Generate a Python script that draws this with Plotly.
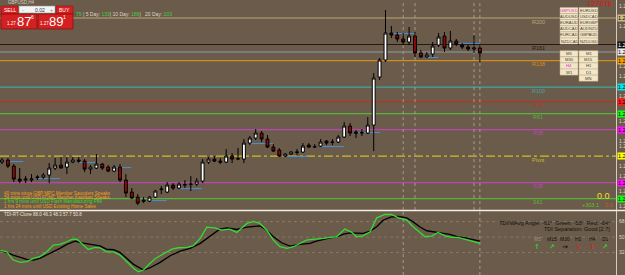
import plotly.graph_objects as go

# ---------------- data ----------------
opens = [1.2588,1.2592,1.2580,1.2554,1.2552,1.2552,1.2557,1.2558,1.2562,1.2576,
         1.2582,1.2578,1.2588,1.2592,1.2590,1.2574,1.2576,1.2584,1.2578,1.2570,
         1.2578,1.2552,1.2528,1.2518,1.2512,1.2510,1.2518,1.2533,1.2528,1.2542,
         1.2536,1.2542,1.2543,1.2544,1.2550,1.2588,1.2594,1.2590,1.2588,1.2600,
         1.2594,1.2594,1.2626,1.2636,1.2646,1.2634,1.2618,1.2612,1.2600,1.2604,
         1.2607,1.2608,1.2622,1.2618,1.2620,1.2630,1.2627,1.2628,1.2638,1.2660,
         1.2648,1.2646,1.2646,1.2662,1.2758,1.2792,1.2846,1.2842,1.2834,1.2828,
         1.2840,1.2806,1.2798,1.2804,1.2822,1.2840,1.2816,1.2830,1.2822,1.2818,
         1.2814,1.2816]
highs = [1.2596,1.2596,1.2584,1.2576,1.2560,1.2564,1.2562,1.2566,1.2586,1.2596,
         1.2598,1.2598,1.2598,1.2598,1.2594,1.2582,1.2604,1.2586,1.2582,1.2582,
         1.2584,1.2564,1.2536,1.2524,1.2518,1.2520,1.2532,1.2540,1.2548,1.2546,
         1.2548,1.2552,1.2560,1.2556,1.2594,1.2598,1.2600,1.2596,1.2614,1.2606,
         1.2616,1.2634,1.2640,1.2654,1.2650,1.2642,1.2624,1.2616,1.2606,1.2610,
         1.2614,1.2626,1.2626,1.2624,1.2634,1.2632,1.2634,1.2642,1.2668,1.2666,
         1.2652,1.2654,1.2678,1.2766,1.2796,1.2892,1.2860,1.2848,1.2846,1.2858,
         1.2848,1.2812,1.2808,1.2828,1.2846,1.2848,1.2850,1.2834,1.2826,1.2822,
         1.2842,1.2822]
lows = [1.2584,1.2576,1.2548,1.2546,1.2546,1.2548,1.2552,1.2554,1.2546,1.2572,
        1.2576,1.2564,1.2586,1.2586,1.2568,1.2564,1.2574,1.2572,1.2568,1.2568,
        1.2548,1.2518,1.2514,1.2502,1.2506,1.2508,1.2516,1.2524,1.2526,1.2532,
        1.2534,1.2536,1.2530,1.2540,1.2546,1.2584,1.2588,1.2584,1.2586,1.2586,
        1.2592,1.2586,1.2622,1.2632,1.2628,1.2616,1.2608,1.2598,1.2598,1.2602,
        1.2602,1.2606,1.2616,1.2616,1.2618,1.2622,1.2622,1.2626,1.2636,1.2640,
        1.2636,1.2640,1.2644,1.2610,1.2752,1.2788,1.2836,1.2828,1.2822,1.2822,
        1.2798,1.2796,1.2796,1.2798,1.2818,1.2808,1.2812,1.2820,1.2814,1.2810,
        1.2806,1.2788]
closes = [1.2592,1.2580,1.2554,1.2550,1.2554,1.2554,1.2558,1.2562,1.2576,1.2582,
          1.2576,1.2588,1.2592,1.2590,1.2574,1.2578,1.2584,1.2576,1.2570,1.2578,
          1.2552,1.2526,1.2516,1.2506,1.2510,1.2518,1.2530,1.2534,1.2542,1.2536,
          1.2544,1.2543,1.2544,1.2550,1.2588,1.2594,1.2590,1.2588,1.2600,1.2594,
          1.2595,1.2626,1.2636,1.2646,1.2634,1.2618,1.2610,1.2600,1.2604,1.2608,
          1.2608,1.2620,1.2618,1.2619,1.2628,1.2626,1.2628,1.2638,1.2660,1.2646,
          1.2646,1.2647,1.2662,1.2756,1.2792,1.2846,1.2842,1.2834,1.2828,1.2840,
          1.2806,1.2798,1.2802,1.2820,1.2838,1.2816,1.2830,1.2824,1.2818,1.2814,
          1.2816,1.2806]
bar_index = list(range(len(opens)))

level_names = ["R200", "R161", "R138", "R100", "R78", "R61", "R38", "Pivot", "S38", "S61"]
level_values = [1.2876, 1.2823, 1.2791, 1.2738, 1.2709, 1.2685, 1.2653, 1.2600, 1.2547, 1.2515]
bid_line = 1.2808
price_ticks = [1.2900, 1.2860, 1.2780, 1.2760, 1.2720, 1.2670, 1.2630, 1.2620, 1.2580, 1.2560, 1.2530, 1.2500]

# short support/resistance segments: (start bar, end bar, price)
seg_start = [0.7, 5.9, 12.9, 18.8, 25.1, 30.2, 42.0, 48.3, 54.2, 60.2, 66.1, 71.7, 77.1]
seg_end = [3.6, 9.8, 15.8, 21.9, 27.9, 33.9, 45.9, 51.9, 58.0, 64.1, 70.0, 73.9, 81.0]
seg_price = [1.2589, 1.2555, 1.2587, 1.2577, 1.2511, 1.2535, 1.2625, 1.2599, 1.2619, 1.2647,
             1.2845, 1.2797, 1.2825]

session_main = [68, 70, 80, 81]
session_sub = [68, 81]

tdi_green_x = [-0.3,0.8,1.9,3.1,4.2,5.3,6.4,7.6,8.7,9.8,11.0,11.8,12.7,13.5,14.6,15.8,16.6,
               17.7,18.9,20.0,21.1,22.3,23.1,24.0,24.8,25.9,26.8,27.9,28.8,29.9,31.3,32.4,
               33.6,34.7,36.1,37.2,38.6,39.8,40.6,41.5,42.6,43.7,44.9,46.0,47.1,48.3,49.4,
               50.5,51.6,52.2,53.3,54.5,55.6,56.7,58.1,59.3,60.1,61.2,62.4,63.5,64.9,66.0,
               67.2,68.6,69.7,70.8,71.7,72.8,73.9,75.1,76.2,77.3,78.5,79.9,81.0]
tdi_green = [34.9,32.9,23.3,20.6,21.4,25.3,27.2,32.9,40.7,41.5,44.6,47.3,47.7,42.7,35.7,38.0,
             37.6,32.9,32.9,29.1,21.4,13.7,9.8,11.7,17.5,24.5,28.3,32.9,36.1,37.6,38.0,39.9,
             48.5,61.6,60.8,58.1,59.3,55.5,60.1,65.9,68.2,65.9,58.1,46.5,38.8,36.9,38.8,
             42.7,46.5,47.0,47.3,48.5,49.6,50.4,59.3,55.5,50.4,51.5,56.1,72.4,76.3,76.3,
             72.4,69.7,62.0,56.1,50.4,51.2,55.5,51.5,49.6,49.6,47.3,44.6,42.7]
tdi_black_x = [-0.3,1.9,4.2,5.3,6.4,7.6,8.7,9.8,11.0,12.4,13.5,14.9,16.6,17.7,18.9,20.0,21.1,
               22.3,24.0,25.1,26.8,28.5,30.2,31.9,33.6,35.3,36.9,38.1,39.8,41.5,43.7,44.9,
               46.0,47.4,48.8,50.5,52.2,53.3,54.5,55.6,56.7,57.9,59.0,60.1,61.2,62.4,63.5,
               64.6,66.0,67.2,68.6,69.7,70.8,72.0,73.4,74.8,75.9,77.3,78.5,79.9,81.0]
tdi_black = [34.9,29.1,24.1,23.3,25.3,29.1,32.9,36.9,41.5,45.4,43.4,41.9,39.9,36.1,35.3,32.2,
             25.3,18.3,11.7,14.4,20.6,28.3,33.8,36.9,42.7,51.5,59.3,60.8,58.9,61.6,63.1,58.1,
             50.4,43.4,39.6,41.5,42.7,45.4,47.7,49.2,50.4,53.5,55.0,54.3,54.3,57.0,62.0,
             69.7,73.6,74.0,72.4,67.7,62.0,57.4,55.5,54.3,53.1,50.4,49.2,47.3,45.4]
tdi_levels = [68, 50, 32]

pairs_left = ["GBPUSD", "AUDUSD", "EURAUD", "AUDCAD", "EURCAD", "NZDCAD"]
pairs_right = ["EURUSD", "USDCAD", "EURGBP", "AUDNZD", "GBPAUD", "NZDUSD"]
tf_left = ["M5", "M30", "H4", "W1", ""]
tf_right = ["M1", "M15", "H1", "D1", "MN"]
tf_names = ["M5", "M15", "M30", "H1", "H4", "D1"]
tf_arrows = ["↑", "↗", "→", "↘", "↓", "↗"]
news = ["40 mins since GBP MPC Member Saunders Speaks",
        "54 mins until USD FOMC Member Kashkari Speaks",
        "1 hrs 9 mins until USD Flash Manufacturing PMI",
        "1 hrs 24 mins until USD Existing Home Sales"]

# ---------------- styles ----------------
BG = "#6b5b4a"
FONT = "Liberation Sans, Arial, sans-serif"
level_colors = ["#b9a779", "#231a12", "#d48d1c", "#3fa8a2", "#b8332a", "#58b33a",
                "#b847b4", "#cdbf22", "#b847b4", "#58b33a"]
level_box = ["#cbbb80", "#111111", "#f0a000", "#00e8f0", "#ff1a1a", "#10ff10",
             "#ff10ff", "#ffff00", "#ff10ff", "#10ff10"]
tf_arrow_colors = ["#2fd02f", "#2fd02f", "#111111", "#e82020", "#e82020", "#2fd02f"]
news_colors = ["#f0a020", "#f0a020", "#38d838", "#f0a020"]

PLOT_W, H = 616, 275
def fx(x): return x / PLOT_W
def fy(y): return 1 - y / H

fig = go.Figure()
fig.add_trace(go.Candlestick(
    x=bar_index, open=opens, high=highs, low=lows, close=closes,
    increasing=dict(fillcolor="#ffffff", line=dict(color="#000000", width=1)),
    decreasing=dict(fillcolor="#8b0b0b", line=dict(color="#000000", width=1)),
    whiskerwidth=0, showlegend=False, xaxis="x", yaxis="y"))
fig.add_trace(go.Scatter(x=tdi_black_x, y=tdi_black, mode="lines",
                         line=dict(color="#000000", width=1.3), xaxis="x2", yaxis="y2",
                         showlegend=False))
fig.add_trace(go.Scatter(x=tdi_green_x, y=tdi_green, mode="lines",
                         line=dict(color="#33dd33", width=1.3), xaxis="x2", yaxis="y2",
                         showlegend=False))

shapes = []
annos = []

def txt(x, y, s, size, color, anchor="left", family=FONT):
    annos.append(dict(x=fx(x), y=fy(y), xref="paper", yref="paper", text=s, showarrow=False,
                      xanchor=anchor, yanchor="middle", font=dict(size=size, color=color, family=family)))

def rect(x0, y0, x1, y1, fill, line, lw=0.6):
    shapes.append(dict(type="rect", xref="paper", yref="paper", x0=fx(x0), x1=fx(x1),
                       y0=fy(y1), y1=fy(y0), fillcolor=fill, line=dict(color=line, width=lw)))

# level lines
for name, val, col, box in zip(level_names, level_values, level_colors, level_box):
    shapes.append(dict(type="line", xref="paper", yref="y", x0=0, x1=1, y0=val, y1=val,
                       layer="below",
                       line=dict(color=col, width=1.2 if name != "Pivot" else 1.3,
                                 dash="dashdot" if name == "Pivot" else "solid")))
    annos.append(dict(x=fx(538), y=val, xref="paper", yref="y", text=name, showarrow=False,
                      xanchor="center", yanchor="middle", yshift=-3.5,
                      font=dict(size=5.5, color=col, family=FONT)))
    annos.append(dict(x=1, y=val, xref="paper", yref="y", text=f"{val:.5f}", showarrow=False,
                      xanchor="left", yanchor="middle", bgcolor=box, borderpad=0, xshift=1,
                      font=dict(size=5.5, color="#000000" if name != "R161" else "#ffffff", family=FONT)))
shapes.append(dict(type="line", xref="paper", yref="y", x0=0, x1=1, y0=bid_line, y1=bid_line,
                   layer="below", line=dict(color="#8d9cab", width=1)))
annos.append(dict(x=1, y=bid_line, xref="paper", yref="y", text=f"{bid_line:.5f}", showarrow=False,
                  xanchor="left", yanchor="middle", bgcolor="#e8e8e8", borderpad=0, xshift=1,
                  font=dict(size=5.5, color="#000", family=FONT)))

# blue segments
for s0, s1, p in zip(seg_start, seg_end, seg_price):
    shapes.append(dict(type="line", xref="x", yref="y", x0=s0, x1=s1, y0=p, y1=p,
                       layer="below", line=dict(color="#4a8fd8", width=1)))

# session dotted lines
for s in session_main:
    shapes.append(dict(type="line", xref="x", yref="paper", x0=s, x1=s, y0=0.236, y1=1,
                       layer="below", line=dict(color="#a89c8c", width=1, dash="dot")))
for s in session_sub:
    shapes.append(dict(type="line", xref="x2", yref="paper", x0=s, x1=s, y0=0, y1=0.232,
                       layer="below", line=dict(color="#a89c8c", width=1, dash="dot")))
for lv in tdi_levels:
    shapes.append(dict(type="line", xref="paper", yref="y2", x0=0, x1=1, y0=lv, y1=lv,
                       layer="below", line=dict(color="#85776a", width=1, dash="dot")))

# separator
shapes.append(dict(type="line", xref="paper", yref="paper", x0=0, x1=1.02, y0=fy(210.5), y1=fy(210.5),
                   line=dict(color="#f4f0e8", width=1.5)))

# one-click trading panel
txt(6, 2, "GBPUSD,H4", 4.5, "#d8d0c0")
rect(1, 6, 18, 14, "#d42020", "#9a1010")
txt(9.5, 10, "SELL", 5, "#ffffff", "center")
rect(19, 6, 55, 13, "#f4f4f4", "#999999")
txt(23, 9.5, "-", 5, "#777777", "center")
txt(40, 9.5, "0.02", 5, "#333333", "center")
txt(51, 9.5, "+", 5, "#777777", "center")
rect(56, 6, 73, 14, "#d42020", "#9a1010")
txt(64.5, 10, "BUY", 5, "#ffffff", "center")
rect(1, 14, 37, 29, "#d42020", "#8a0000")
rect(38, 14, 73, 29, "#d42020", "#8a0000")
txt(11, 23.5, "1.27", 4.5, "#ffffff", "center")
txt(24, 21.5, "87", 13, "#ffffff", "center")
txt(32.5, 17.5, "6", 5, "#ffffff", "center")
txt(44, 23.5, "1.27", 4.5, "#ffffff", "center")
txt(56, 21.5, "89", 13, "#ffffff", "center")
txt(64, 17.5, "1", 5, "#ffffff", "center")
G = "#3fd13f"
txt(74, 14, f"<span style='color:{G}'>75</span> | 5 Day: <span style='color:{G}'>133</span>| "
            f"10 Day: <span style='color:{G}'>186</span>|   20 Day: <span style='color:{G}'>103</span>",
    5, "#ddd5c5")

# price readout
txt(614, 3.6, "127876", 7.5, "#e81010", "right")

# currency / timeframe buttons
for i, (a, b) in enumerate(zip(pairs_left, pairs_right)):
    y0 = 7.5 + i * 6.1
    rect(560, y0, 578, y0 + 6.1, "#f2e6c9", "#bfae8a", 0.5)
    rect(579, y0, 598, y0 + 6.1, "#f2e6c9", "#bfae8a", 0.5)
    txt(569, y0 + 3.05, a, 4.2, "#e040c0" if i == 0 else "#4a3c2a", "center")
    txt(588.5, y0 + 3.05, b, 4.2, "#4a3c2a", "center")
for i, (a, b) in enumerate(zip(tf_left, tf_right)):
    y0 = 50.7 + i * 6.1
    if a:
        rect(560, y0, 578, y0 + 6.1, "#f2e6c9", "#bfae8a", 0.5)
        txt(569, y0 + 3.05, a, 4.2, "#e020e0" if a == "H4" else "#4a3c2a", "center")
    rect(579, y0, 598, y0 + 6.1, "#f2e6c9", "#bfae8a", 0.5)
    txt(588.5, y0 + 3.05, b, 4.2, "#4a3c2a", "center")

# news
for i, (n, c) in enumerate(zip(news, news_colors)):
    txt(2, 193 + i * 4.4, n, 4.6, c)

# profit readouts
txt(603, 196, "0.0", 9, "#f0e020", "center")
txt(601, 205, "+303.1", 5.5, "#5fc02f", "right")
txt(609, 205, "0.0", 5.5, "#d85020", "center")

# indicator texts
txt(2, 214.5, "TDI-RT-Clone 88.0 46.3 48.3 57.7 50.8", 4.5, "#ece4d4")
txt(612, 223, "TDI/WAvg Angle: -61°  Green: -53°  Red: -64°", 5.5, "#111111", "right")
txt(612, 229, "TDI Separation: Good [2.7]", 5.5, "#111111", "right")
tf_x = [537, 552, 565, 578, 592, 605]
for xx, nm, ar, ac in zip(tf_x, tf_names, tf_arrows, tf_arrow_colors):
    txt(xx, 239, nm, 5, "#9c9282" if nm == "M5" else "#111111", "center")
    txt(xx, 247, f"<b>{ar}</b>", 7, ac, "center", "DejaVu Sans")

fig.update_layout(
    width=625, height=275, margin=dict(l=0, r=9, t=0, b=0, autoexpand=False),
    paper_bgcolor=BG, plot_bgcolor=BG, showlegend=False,
    xaxis=dict(domain=[0, 1], range=[-0.34, 104.07], visible=False, automargin=False,
               rangeslider=dict(visible=False), anchor="y"),
    yaxis=dict(domain=[0.236, 1], range=[1.2492, 1.2912], side="right", anchor="x", automargin=False,
               showgrid=False, zeroline=False, showline=True, linecolor="#d4ccc0", linewidth=1,
               ticks="", tickvals=price_ticks, tickformat=".4f", ticklabelstandoff=1,
               tickfont=dict(size=5, color="#ded6c8", family=FONT)),
    xaxis2=dict(domain=[0, 1], range=[-0.34, 104.07], visible=False, anchor="y2", automargin=False),
    yaxis2=dict(domain=[0, 0.232], range=[5.92, 80.16], side="right", anchor="x2", automargin=False,
                showgrid=False, zeroline=False, showline=True, linecolor="#d4ccc0", linewidth=1,
                ticks="", tickvals=tdi_levels, ticklabelstandoff=1,
                tickfont=dict(size=5, color="#ded6c8", family=FONT)),
    shapes=shapes, annotations=annos,
)
fig.write_html("out.html")
